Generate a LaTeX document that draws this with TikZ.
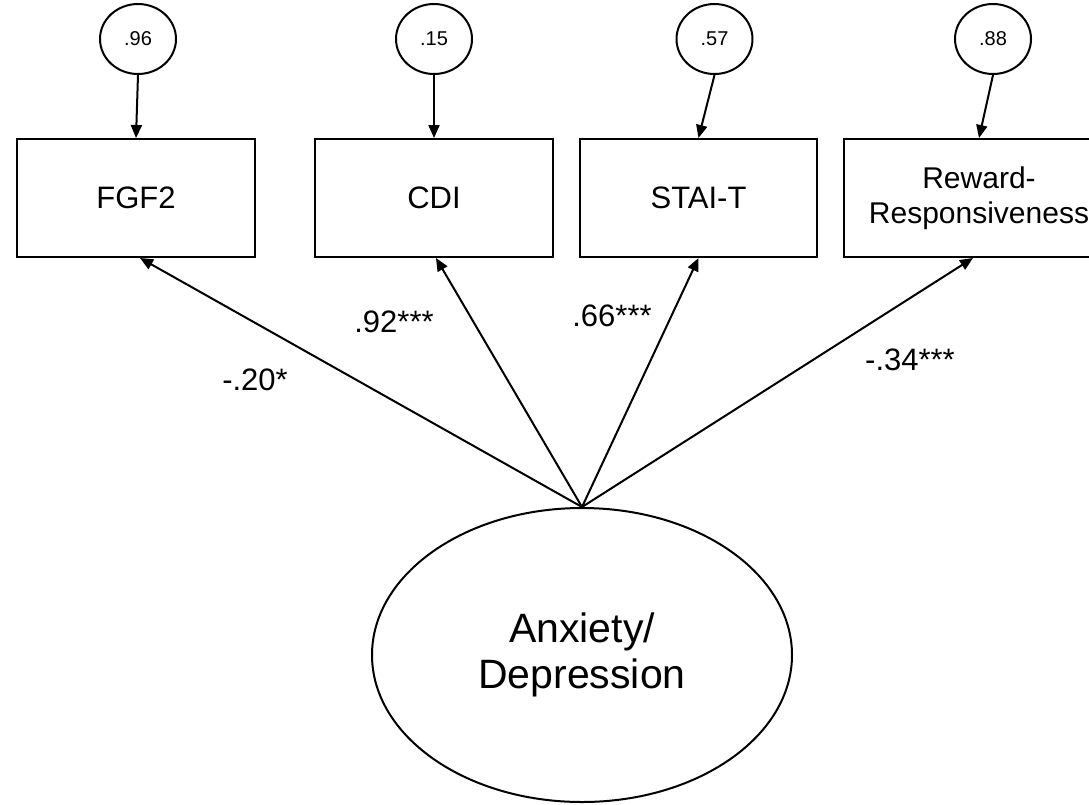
\documentclass[tikz,border=0pt]{standalone}
\usepackage{fontspec}
\setmainfont{Liberation Sans}
\usetikzlibrary{shapes.geometric,arrows.meta,positioning}

\begin{document}
\begin{tikzpicture}[x=1pt,y=-1pt,line width=2pt,
    >={Triangle[length=13pt,width=11pt]},
    obs/.style={rectangle, draw, minimum width=238pt, minimum height=118pt, align=center, font=\fontsize{31}{36}\selectfont},
    err/.style={ellipse, draw, minimum width=76pt, minimum height=70pt, inner sep=0pt, font=\fontsize{20}{22}\selectfont},
    lat/.style={ellipse, draw, minimum width=420pt, minimum height=294pt, align=center, font=\fontsize{41}{46}\selectfont},
    coef/.style={font=\fontsize{31}{36}\selectfont}]
    \path[use as bounding box, fill=white] (0,0) rectangle (1089,804);

    \node (fgf2) [obs] at (136,198) {FGF2};
    \node (cdi) [obs, right=58pt of fgf2] {CDI};
    \node (stai) [obs, right=25pt of cdi, minimum width=237pt] {STAI-T};
    \node (rr) [obs, right=25pt of stai, minimum width=270pt, font=\fontsize{30}{35}\selectfont] {Reward-\\Responsiveness};

    \node (e1) [err, above=63pt of fgf2, xshift=2pt] {.96};
    \node (e2) [err, above=63pt of cdi] {.15};
    \node (e3) [err, above=63pt of stai, xshift=16pt] {.57};
    \node (e4) [err, above=63pt of rr, xshift=14pt] {.88};

    \node (anx) [lat] at (582,655) {Anxiety/\\Depression};

    \draw [->] (e1.south) -- (fgf2.north);
    \draw [->] (e2.south) -- (cdi.north);
    \draw [->] (e3.south) -- (stai.north);
    \draw [->] (e4.south) -- (rr.north);

    \draw [->] (anx.north) -- ([xshift=4pt]fgf2.south);
    \draw [->] (anx.north) -- ([xshift=2pt]cdi.south);
    \draw [->] (anx.north) -- (stai.south);
    \draw [->] (anx.north) -- ([xshift=-6pt]rr.south);

    \node (l1) [coef] at (255,380) {-.20*};
    \node (l2) [coef] at (394,322) {.92***};
    \node (l3) [coef] at (612,316) {.66***};
    \node (l4) [coef] at (910,360) {-.34***};
\end{tikzpicture}
\end{document}
